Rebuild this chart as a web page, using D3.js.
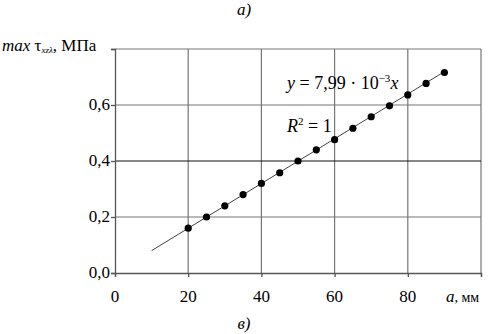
<!DOCTYPE html>
<html><head><meta charset="utf-8">
<script src="https://cdn.jsdelivr.net/npm/d3@7"></script>
<style>
@font-face{font-family:"RefSerif";src:local("Liberation Serif"),local("LiberationSerif"),local("Times New Roman");font-style:normal;}
@font-face{font-family:"RefSerif";src:local("Liberation Serif Italic"),local("LiberationSerif-Italic"),local("Times New Roman Italic");font-style:italic;}
body{margin:0;background:#fff}svg{display:block}
svg text, svg tspan{font-family:"Times New Roman","Liberation Serif",RefSerif,serif !important}
</style>
</head><body><svg id="c" width="490" height="334"></svg>
<script>
const xTicks=[0,20,40,60,80];
const yTicks=[0,0.2,0.4,0.6];
const yTickLabels=["0,0","0,2","0,4","0,6"];
const aVals=[20,25,30,35,40,45,50,55,60,65,70,75,80,85,90];
const tauVals=[0.160,0.200,0.240,0.280,0.320,0.358,0.400,0.440,0.476,0.517,0.558,0.597,0.636,0.677,0.716];
const fitX=[10,90];
const slope=7.99e-3;

const svg=d3.select("#c");
const x=d3.scaleLinear().domain([0,100]).range([115,481]);
const y=d3.scaleLinear().domain([0,0.8]).range([273,49]);
const g=svg.append("g");
g.selectAll(".vg").data([20,40,60,80,100]).enter().append("line")
 .attr("x1",d=>x(d)).attr("x2",d=>x(d)).attr("y1",y(0)).attr("y2",y(0.8))
 .attr("stroke","#777").attr("stroke-width",1.2);
g.selectAll(".hg").data([0.2,0.4,0.6,0.8]).enter().append("line")
 .attr("x1",x(0)).attr("x2",x(100)).attr("y1",d=>y(d)).attr("y2",d=>y(d))
 .attr("stroke",d=>d===0.4?"#111":"#777").attr("stroke-width",1.2);
const xa=svg.append("g").attr("transform",`translate(0,${y(0)})`)
 .call(d3.axisBottom(x).tickValues([0,20,40,60,80,100]).tickSize(4).tickFormat(""));
const ya=svg.append("g").attr("transform",`translate(${x(0)},0)`)
 .call(d3.axisLeft(y).tickValues([0,0.2,0.4,0.6,0.8]).tickSize(4).tickFormat(""));
[xa,ya].forEach(a=>{a.selectAll("path,line").attr("stroke","#555").attr("stroke-width",1.3);});
const T=svg.append("g");
T.selectAll(".xl").data(xTicks).enter().append("text")
 .attr("x",d=>x(d)).attr("y",302).attr("text-anchor","middle").attr("font-size",17).text(d=>d);
T.selectAll(".yl").data(yTicks).enter().append("text")
 .attr("x",110).attr("y",d=>y(d)+5).attr("text-anchor","end").attr("font-size",17)
 .text((d,i)=>yTickLabels[i]);
svg.append("line").attr("x1",x(fitX[0])).attr("y1",y(slope*fitX[0]))
 .attr("x2",x(fitX[1])).attr("y2",y(slope*fitX[1])).attr("stroke","#444").attr("stroke-width",1);
svg.selectAll(".pt").data(aVals).enter().append("circle")
 .attr("cx",d=>x(d)).attr("cy",(d,i)=>y(tauVals[i])).attr("r",3.6).attr("fill","#000");
const ax=T.append("text").attr("x",446).attr("y",302).attr("font-size",17);
ax.append("tspan").attr("font-style","italic").text("a");
ax.append("tspan").attr("font-size",14).text(", мм");
const yl=T.append("text").attr("x",2).attr("y",51).attr("font-size",17);
yl.append("tspan").attr("font-style","italic").text("max ");
yl.append("tspan").text("τ");
yl.append("tspan").attr("font-size",9).attr("font-style","italic").attr("dy",2).text("xzλ");
yl.append("tspan").attr("dy",-2).text(", МПа");
const eq=T.append("text").attr("x",287).attr("y",89).attr("font-size",18);
eq.append("tspan").attr("font-style","italic").text("y");
eq.append("tspan").text(" = 7,99 · 10");
eq.append("tspan").attr("font-size",11).attr("dy",-7).text("−3");
eq.append("tspan").attr("font-style","italic").attr("dy",7).text("x");
const r2=T.append("text").attr("x",287).attr("y",132).attr("font-size",18);
r2.append("tspan").attr("font-style","italic").text("R");
r2.append("tspan").attr("font-size",11).attr("dy",-7).text("2");
r2.append("tspan").attr("dy",7).text(" = 1");
T.append("text").attr("x",244).attr("y",15).attr("text-anchor","middle").attr("font-size",17).attr("font-style","italic").text("а)");
T.append("text").attr("x",244).attr("y",329).attr("text-anchor","middle").attr("font-size",17).attr("font-style","italic").text("в)");
</script></body></html>
